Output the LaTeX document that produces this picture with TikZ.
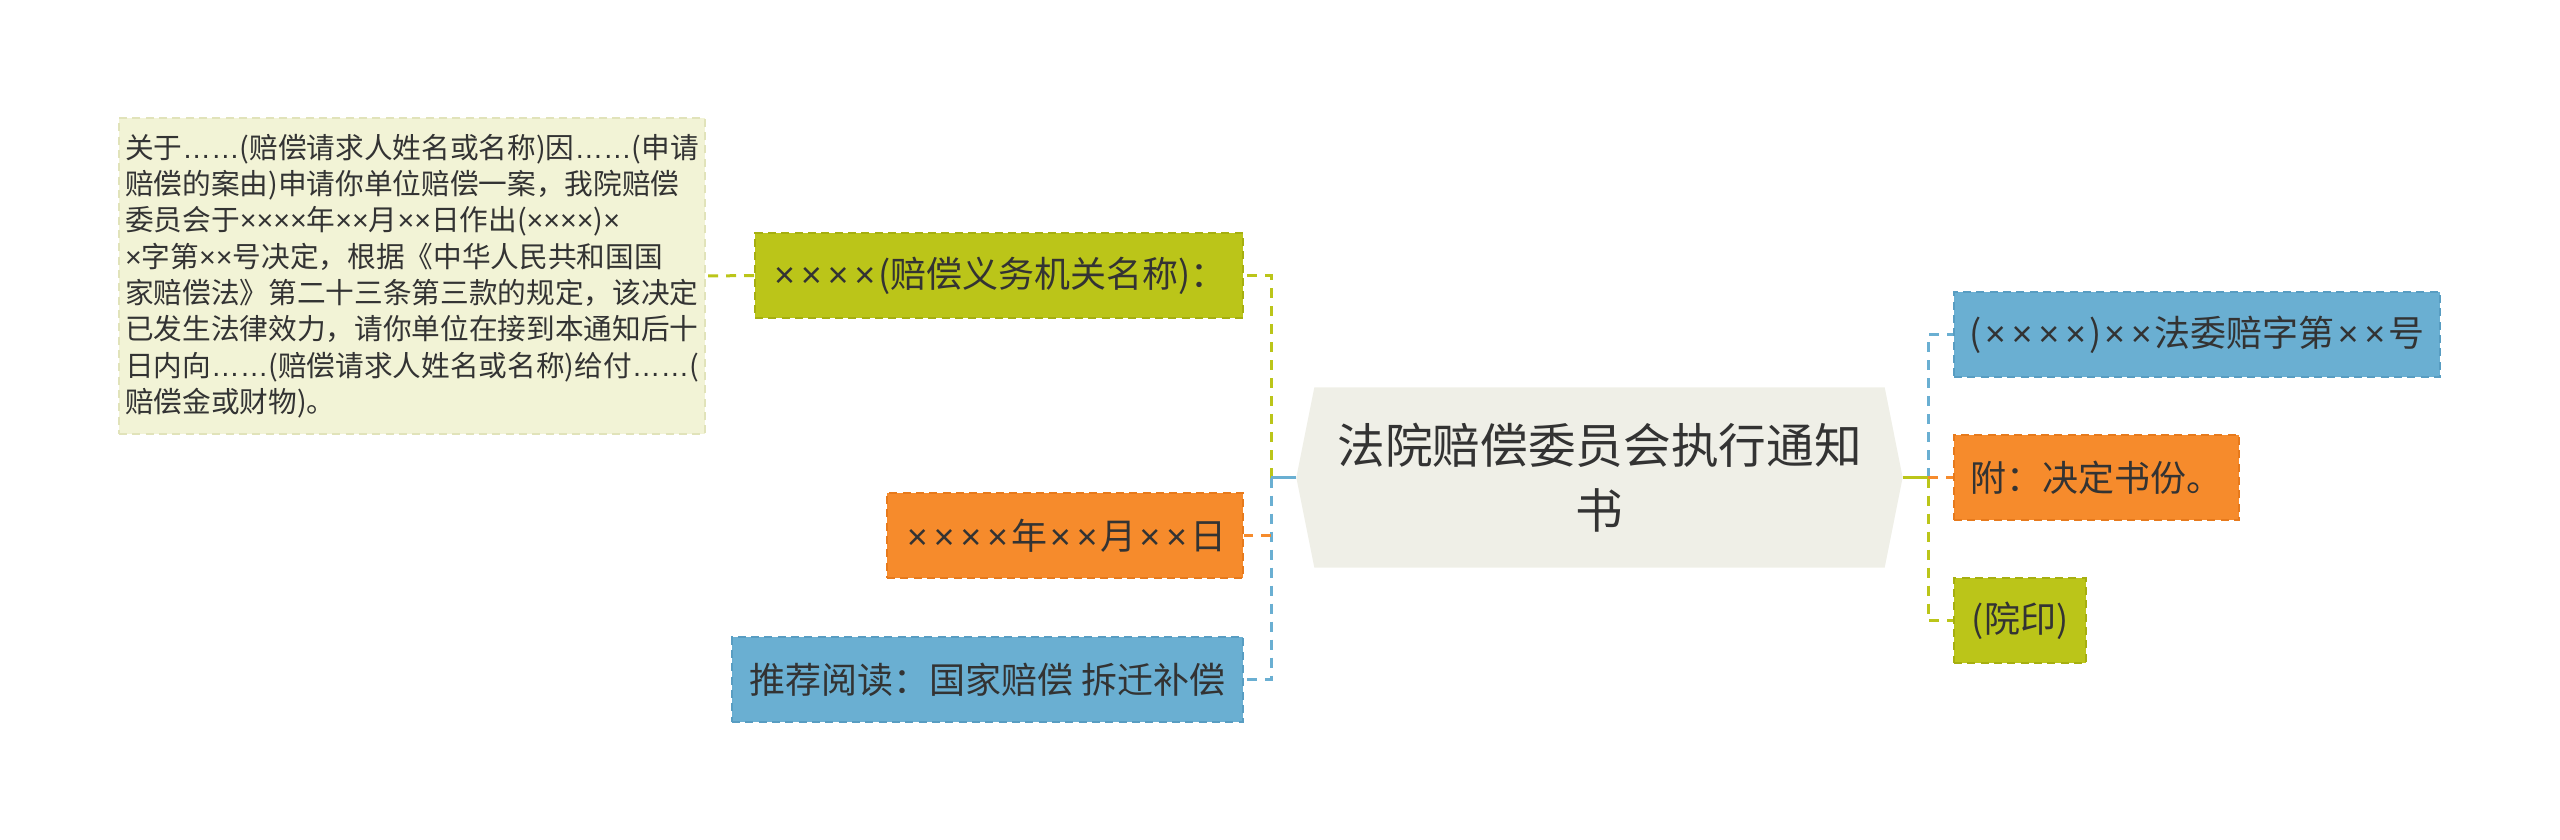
\documentclass[tikz,border=0pt]{standalone}
\usepackage{fontspec}
\setmainfont{Noto Sans CJK SC}
\newfontfamily\westfont{Liberation Sans}
\usetikzlibrary{backgrounds}
\definecolor{mgreen}{HTML}{BBC519}
\definecolor{mgreenline}{HTML}{A6AF10}
\definecolor{morange}{HTML}{F68B2C}
\definecolor{morangeline}{HTML}{E77A1C}
\definecolor{mblue}{HTML}{6AAFD2}
\definecolor{mblueline}{HTML}{589DC2}
\definecolor{memofill}{HTML}{F2F3D6}
\definecolor{memoline}{HTML}{E1E3BA}
\definecolor{topicfill}{HTML}{EFEFE7}
\definecolor{ink}{HTML}{333333}
\newcommand{\elli}{{\westfont ……}}
\newcommand{\xx}[1]{{\westfont #1}}
\newcommand{\tm}{\kern0.08em{\westfont ×}\kern0.08em}

\begin{document}
\begin{tikzpicture}[x=0.3pt,y=-0.3pt]
	\tikzstyle{leaf}=[minimum height=25.5pt,inner sep=0pt,text=ink,font=\fontsize{10.8}{13}\selectfont,line width=0.6pt,dash pattern=on 2.4pt off 1.6pt]
	\tikzstyle{gleaf}=[leaf,fill=mgreen,draw=mgreenline]
	\tikzstyle{oleaf}=[leaf,fill=morange,draw=morangeline]
	\tikzstyle{bleaf}=[leaf,fill=mblue,draw=mblueline]
	\tikzstyle{link}=[line width=0.9pt,dash pattern=on 3pt off 2.4pt]
	\useasboundingbox (0,0) rectangle (2560,840);
	\node[minimum width=181.5pt,minimum height=53.7pt,inner sep=0pt,align=center,text=ink,font=\fontsize{14.3}{19.6}\selectfont](t) at (1599.5,477.5) {法院赔偿委员会执行通知\\书};
	\begin{scope}[on background layer]
		\fill[topicfill] ([xshift=5.4pt]t.north west) -- ([xshift=-5.4pt]t.north east) -- (t.east) -- ([xshift=-5.4pt]t.south east) -- ([xshift=5.4pt]t.south west) -- (t.west) -- cycle;
	\end{scope}
	\node[gleaf,minimum width=146.4pt,anchor=east](l1) at (1244,275.5) {\tm\tm\tm\tm(赔偿义务机关名称)：};
	\node[oleaf,minimum width=106.8pt,anchor=east](l2) at (1244,535.5) {\tm\tm\tm\tm 年\tm\tm 月\tm\tm 日};
	\node[bleaf,minimum width=153.3pt,anchor=east](l3) at (1244,679.5) {推荐阅读：国家赔偿 拆迁补偿};
	\node[fill=memofill,draw=memoline,line width=0.6pt,dash pattern=on 2.4pt off 1.6pt,minimum width=175.8pt,minimum height=94.8pt,inner sep=0pt,align=left,text=ink,font=\fontsize{8.6}{10.9}\selectfont](m) at (412,276) {关于\elli(赔偿请求人姓名或名称)因\elli(申请\\赔偿的案由)申请你单位赔偿一案，我院赔偿\\委员会于\xx{××××}年\xx{××}月\xx{××}日作出(\xx{××××})\xx{×}\\\xx{×}字第\xx{××}号决定，根据《中华人民共和国国\\家赔偿法》第二十三条第三款的规定，该决定\\已发生法律效力，请你单位在接到本通知后十\\日内向\elli(赔偿请求人姓名或名称)给付\elli(\\赔偿金或财物)。};
	\node[bleaf,minimum width=145.8pt,anchor=west](r1) at (1953,334.5) {(\tm\tm\tm\tm)\tm\tm 法委赔字第\tm\tm 号};
	\node[oleaf,minimum width=85.5pt,anchor=west](r2) at (1953,477.5) {附：决定书份。};
	\node[gleaf,minimum width=39.6pt,anchor=west](r3) at (1953,620.5) {(院印)};
	\coordinate (jl) at (1271,477.5);
	\coordinate (jr) at (1928,477.5);
	% left side
	\draw[link,mgreen] (jl) |- (l1.east);
	\draw[link,mblue] (jl) |- (l3.east);
	\draw[link,morange] (jl |- l2.east) -- (l2.east);
	\draw[line width=0.9pt,mblue] (t.west) -- (jl);
	\draw[link,mgreen] (l1.west) -- (m.east);
	% right side
	\draw[link,mblue] (jr) |- (r1.west);
	\draw[link,mgreen] (jr) |- (r3.west);
	\draw[link,morange] (jr) -- (r2.west);
	\draw[line width=0.9pt,mgreen] (t.east) -- (jr);
\end{tikzpicture}
\end{document}
